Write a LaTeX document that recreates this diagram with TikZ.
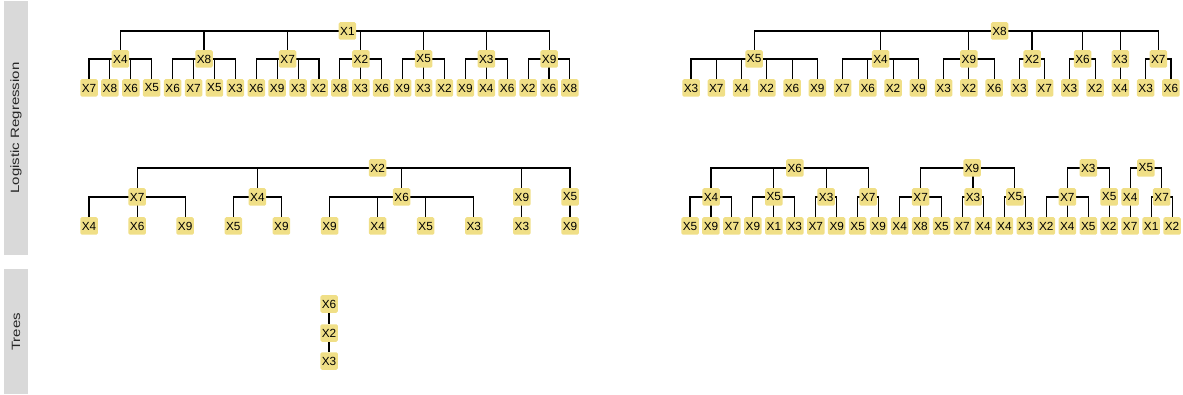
\documentclass[tikz,border=0pt]{standalone}
\usepackage{fontspec}
\setmainfont{Liberation Sans}
\usetikzlibrary{backgrounds}
\definecolor{lblfill}{RGB}{240,223,135}
\definecolor{stripgray}{RGB}{217,217,217}

\begin{document}
\begin{tikzpicture}[x=1pt,y=-1pt,
	var/.style={fill=lblfill,rounded corners=1.5pt,inner sep=0pt,minimum width=17.5pt,minimum height=17.5pt,font=\fontsize{11.8}{13}\selectfont},
	link/.style={line width=1.1pt},
	striplabel/.style={rotate=90,text=black!85,font=\fontsize{12}{14}\selectfont}]
	
	\useasboundingbox (0,0) rectangle (1183,395);
	
	% Strips
	\fill[stripgray] (4,1) rectangle (28,255);
	\fill[stripgray] (4,269) rectangle (28,394);
	\node[striplabel] (sLR) at (16,128) {\scalebox{1.25}[1]{Logistic Regression}};
	\node[striplabel] (sTr) at (16,332) {\scalebox{1.25}[1]{Trees}};
	
	% Top left tree
	\node[var] (A0) at (347.4,31) {X1};
	\foreach \x/\t [count=\i] in {120.4/4,204.0/8,287.7/7,360.9/2,423.6/5,486.3/3,549.1/9}
	\node[var] (A\i) at (\x,59) {X\t};
	\foreach \t [count=\i] in {7,8,6,5,6,7,5,3,6,9,3,2,8,3,6,9,3,2,9,4,6,2,6,8}
	\node[var] (AL\i) at ({89+20.91*(\i-1)},88) {X\t};
	
	% Top right tree
	\node[var] (B0) at (999.5,31) {X8};
	\foreach \x/\t [count=\i] in {754.2/5,880.5/4,968.9/9,1032.0/2,1082.5/6,1120.4/3,1158.3/7}
	\node[var] (B\i) at (\x,59) {X\t};
	\foreach \t [count=\i] in {3,7,4,2,6,9,7,6,2,9,3,2,6,3,7,3,2,4,3,6}
	\node[var] (BL\i) at ({691+25.26*(\i-1)},88) {X\t};
	
	% Middle left tree
	\node[var] (C0) at (377.6,168) {X2};
	\foreach \x/\t [count=\i] in {137.1/7,257.4/4,401.7/6,521.9/9,570.0/5}
	\node[var] (C\i) at (\x,197) {X\t};
	\foreach \t [count=\i] in {4,6,9,5,9,9,4,5,3,3,9}
	\node[var] (CL\i) at ({89+48.1*(\i-1)},226) {X\t};
	
	% Middle right trees
	\foreach \x/\t [count=\i] in {794.8/6,972.0/9,1088.3/3,1145.9/5}
	\node[var] (D0\i) at (\x,168) {X\t};
	\foreach \x/\t [count=\i] in {711.0/4,773.8/5,826.2/3,868.2/7,920.6/7,973.0/3,1014.9/5,1067.3/7,1109.2/5,1130.2/4,1161.6/7}
	\node[var] (D\i) at (\x,197) {X\t};
	\foreach \t [count=\i] in {5,9,7,9,1,3,7,9,5,9,4,8,5,7,4,4,3,2,4,5,2,7,1,2}
	\node[var] (DL\i) at ({690+20.96*(\i-1)},226) {X\t};
	
	% Bottom tree
	\node[var] (E1) at (329,304) {X6};
	\node[var] (E2) at (329,333) {X2};
	\node[var] (E3) at (329,361) {X3};
	
	% Connections
	\begin{scope}[on background layer]
	\foreach \i in {1,...,7}
	\draw[link] (A0.center) -| (A\i.center);
	\foreach \i/\p in {1/1,2/1,3/1,4/1,5/2,6/2,7/2,8/2,9/3,10/3,11/3,12/3,13/4,14/4,15/4,16/5,17/5,18/5,19/6,20/6,21/6,22/7,23/7,24/7}
	\draw[link] (A\p.center) -| (AL\i.center);
	
	\foreach \i in {1,...,7}
	\draw[link] (B0.center) -| (B\i.center);
	\foreach \i/\p in {1/1,2/1,3/1,4/1,5/1,6/1,7/2,8/2,9/2,10/2,11/3,12/3,13/3,14/4,15/4,16/5,17/5,18/6,19/7,20/7}
	\draw[link] (B\p.center) -| (BL\i.center);
	
	\foreach \i in {1,...,5}
	\draw[link] (C0.center) -| (C\i.center);
	\foreach \i/\p in {1/1,2/1,3/1,4/2,5/2,6/3,7/3,8/3,9/3,10/4,11/5}
	\draw[link] (C\p.center) -| (CL\i.center);
	
	\foreach \i/\p in {1/1,2/1,3/1,4/1,5/2,6/2,7/2,8/3,9/3,10/4,11/4}
	\draw[link] (D0\p.center) -| (D\i.center);
	\foreach \i/\p in {1/1,2/1,3/1,4/2,5/2,6/2,7/3,8/3,9/4,10/4,11/5,12/5,13/5,14/6,15/6,16/7,17/7,18/8,19/8,20/8,21/9,22/10,23/11,24/11}
	\draw[link] (D\p.center) -| (DL\i.center);
	
	\draw[link] (E1) -- (E2);
	\draw[link] (E2) -- (E3);
	\end{scope}
\end{tikzpicture}
\end{document}
